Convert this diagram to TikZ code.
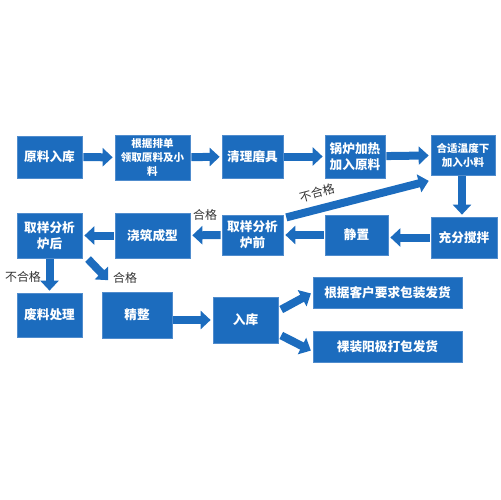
\documentclass[tikz,border=0pt]{standalone}
\usepackage{fontspec}
\setmainfont{Noto Sans CJK SC}
\usetikzlibrary{arrows.meta}

\definecolor{stepblue}{RGB}{28,108,190}
\definecolor{stepedge}{RGB}{80,140,205}

\tikzset{
	flowpicture/.style = {
		x = 0.02cm,
		y = -0.02cm,
		blockarrow/.style = {
			draw = stepblue,
			line width = 8*0.02cm,
			-{Triangle[length = 10*0.02cm, width = 18*0.02cm]},
			shorten >= 2*0.02cm,
			shorten <= 1*0.02cm
		}
	},
	stepbox/.style = {
		rectangle,
		fill = stepblue,
		draw = stepedge,
		line width = 0.4pt,
		text = white,
		align = center,
		inner sep = 1pt,
		font = \fontsize{7.2}{9}\selectfont\bfseries
	},
	smallbox/.style = {
		stepbox,
		font = \fontsize{6}{8}\selectfont\bfseries
	},
	verdict/.style = {
		text = black!80,
		font = \fontsize{6.8}{8}\selectfont
	}
}

\begin{document}
\begin{tikzpicture}[flowpicture]
	\useasboundingbox (0,0) rectangle (500,500);

	% first row
	\node[stepbox, minimum width = 65*0.02cm, minimum height = 42*0.02cm] (yl) at (49.5,157) {原料入库};
	\node[smallbox, minimum width = 75*0.02cm, minimum height = 45*0.02cm] (gj) at (152.5,157.5) {根据排单\\领取原料及小\\料};
	\node[stepbox, minimum width = 61*0.02cm, minimum height = 43*0.02cm] (ql) at (252.5,156.5) {清理磨具};
	\node[stepbox, minimum width = 60*0.02cm, minimum height = 43*0.02cm] (gl) at (355,156.5) {锅炉加热\\加入原料};
	\node[smallbox, minimum width = 64*0.02cm, minimum height = 40*0.02cm] (hs) at (463,155) {合适温度下\\加入小料};

	% second row
	\node[stepbox, minimum width = 65*0.02cm, minimum height = 45*0.02cm] (qh) at (49.5,235.5) {取样分析\\炉后};
	\node[stepbox, minimum width = 75*0.02cm, minimum height = 45*0.02cm] (jz) at (152.5,235.5) {浇筑成型};
	\node[stepbox, minimum width = 61*0.02cm, minimum height = 40*0.02cm] (qq) at (252.5,235) {取样分析\\炉前};
	\node[stepbox, minimum width = 63*0.02cm, minimum height = 40*0.02cm] (jzh) at (356.5,235) {静置};
	\node[stepbox, minimum width = 66*0.02cm, minimum height = 41*0.02cm] (cf) at (464,237.5) {充分搅拌};

	% third row
	\node[stepbox, minimum width = 65*0.02cm, minimum height = 44*0.02cm] (fl) at (49.5,315) {废料处理};
	\node[stepbox, minimum width = 70*0.02cm, minimum height = 46*0.02cm] (jzg) at (137,315) {精整};
	\node[stepbox, minimum width = 65*0.02cm, minimum height = 46*0.02cm] (rk) at (245.5,320) {入库};
	\node[stepbox, minimum width = 149*0.02cm, minimum height = 31*0.02cm] (bz1) at (387.5,292.5) {根据客户要求包装发货};
	\node[stepbox, minimum width = 149*0.02cm, minimum height = 31*0.02cm] (bz2) at (387.5,346.5) {裸装阳极打包发货};

	\begin{scope}[every path/.style = blockarrow]
		\path (yl) -- (gj);
		\path (gj) -- (ql);
		\path (ql) -- (gl);
		\path (gl) -- (hs);
		\path ([xshift = -1*0.02cm]hs.south) -- ([xshift = -2*0.02cm]cf.north);
		\path (cf.west) -- (cf.west -| jzh.east);
		\path (jzh) -- (qq);
		\path (qq) -- (jz);
		\path (jz) -- (qh);
		\path ([xshift = 2*0.02cm, yshift = -3*0.02cm]qq.north east) -- ([yshift = -5*0.02cm]hs.south west);
		\path (qh) -- (fl);
		\path ([xshift = 5*0.02cm]qh.south east) -- ([xshift = 8*0.02cm, yshift = 10*0.02cm]jzg.north west);
		\path (jzg.east |- rk) -- (rk);
		\path ([xshift = 2*0.02cm, yshift = 10*0.02cm]rk.east) -- (bz1.west);
		\path ([xshift = 2*0.02cm, yshift = -15*0.02cm]rk.east) -- ([yshift = -5*0.02cm]bz2.west);
	\end{scope}

	% pass / fail marks
	\node[verdict] (ok1) at (205,215) {合格};
	\node[verdict, rotate = 15] (ng1) at (317,193) {不合格};
	\node[verdict] (ng2) at (23,277) {不合格};
	\node[verdict] (ok2) at (125,278) {合格};
\end{tikzpicture}
\end{document}
